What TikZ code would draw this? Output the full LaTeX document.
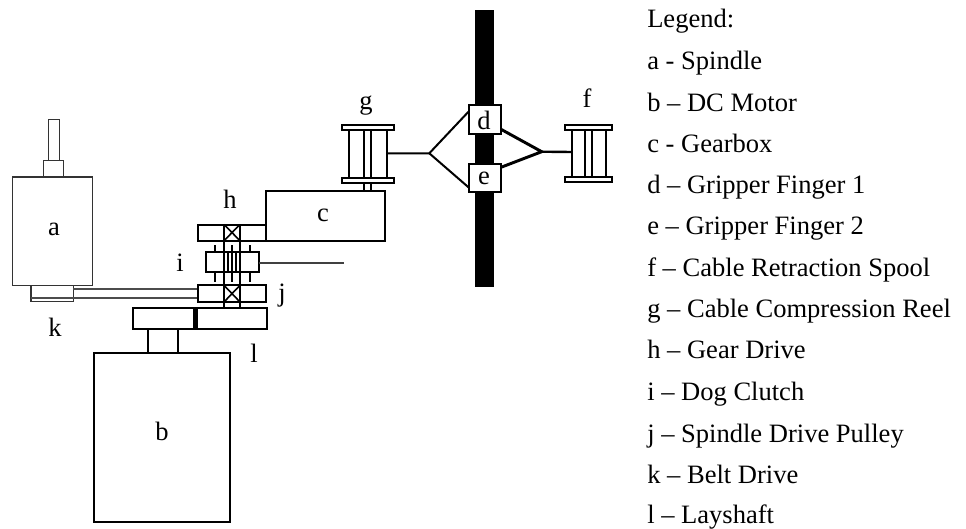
\documentclass[tikz,border=0pt]{standalone}
\usepackage{fontspec}
\setmainfont{Liberation Serif}
\tikzset{
 px/.style={x=0.75pt,y=-0.75pt},
 ln/.style={draw=black,line width=1.5pt,fill=white},
 thin/.style={draw=black!80,line width=1pt,fill=white},
 bar/.style={draw=black,line width=1.5pt},
 lab/.style={font=\fontsize{19.9pt}{22pt}\selectfont,inner sep=0pt,anchor=base},
 leg/.style={font=\fontsize{19.9pt}{22pt}\selectfont,inner sep=0pt,anchor=base west},
}
\begin{document}
\begin{tikzpicture}[px]
\useasboundingbox (0,0) rectangle (966,528);
% gripper bar
\fill[black] (474.5,10) rectangle (494,287);
% spindle
\draw[thin] (48.5,119.5) rectangle (59.5,160.5);
\draw[thin] (43.5,160.5) rectangle (63.5,177);
\draw[thin] (12.7,177) rectangle (92.7,285.7);
% belt
\draw[thin] (31,285.7) rectangle (73.3,301.7);
\draw[draw=black!70,line width=1pt] (31,298.5) -- (73.3,298.5);
\draw[draw=black!70,line width=1pt] (73.3,289) -- (197.5,289);
\draw[draw=black!70,line width=1pt] (31,298) -- (197.5,298);
% motor
\draw[ln] (94,352.5) rectangle (230,522);
\draw[ln] (148.3,329) rectangle (178.3,352.5);
\draw[ln] (132.7,307.7) rectangle (267.3,329);
\draw[line width=3.5pt] (195.7,307.7) -- (195.7,329);
% c gearbox
\draw[ln] (266.3,190.7) rectangle (384.5,240.7);
% shaft
\draw[bar] (224,240.7) -- (224,285.3) (240,240.7) -- (240,285.3);
% h
\draw[ln] (197.5,224.5) rectangle (266,240.7);
\draw[ln] (224,224.5) rectangle (240,240.7);
\draw[line width=1.2pt] (224,224.5) -- (240,240.7) (224,240.7) -- (240,224.5);
% i
\foreach \xx in {215,231.7,250}{
 \draw[line width=1.3pt] (\xx,245) -- (\xx,252.3) (\xx,272.3) -- (\xx,281.7);
}
\draw[ln] (206,252.3) rectangle (258.7,272.3);
\draw[draw=black!75,line width=1pt] (258.7,263) -- (344,263);
\foreach \xx in {224,228,232,236,240}{\draw[line width=1.3pt] (\xx,252.3) -- (\xx,272.3);}
% j
\draw[ln] (197.5,285.3) rectangle (265.7,302);
\draw[ln] (224,285.3) rectangle (240,302);
\draw[line width=1.2pt] (224,285.3) -- (240,302) (224,302) -- (240,285.3);
\draw[bar] (224,302) -- (224,307.7) (240,302) -- (240,307.7);
% g
\draw[bar] (349.3,130) -- (349.3,178) (386.7,130) -- (386.7,178) (364.3,130) -- (364.3,190.7) (370.7,130) -- (370.7,190.7);
\draw[ln] (341.7,125) rectangle (394.3,130);
\draw[ln] (341.7,177.5) rectangle (394.3,182.5);
% f
\draw[bar] (571.7,130) -- (571.7,177) (606,130) -- (606,177) (585,130) -- (585,177) (591.7,130) -- (591.7,177);
\draw[ln] (564.5,124.7) rectangle (612,130);
\draw[ln] (564.5,177) rectangle (612,182);
% gripper connectors
\coordinate (gl) at (429.3,153.3);
\coordinate (gr) at (541.7,151.7);
\draw[line width=1.5pt] (386.7,153.3) -- (gl) -- (468.5,111.7);
\draw[line width=1.5pt] (gl) -- (468.5,187.3);
\draw[line width=2.2pt] (501,129.3) -- (gr) -- (501,167.3);
\draw[line width=1.8pt] (gr) -- (571.7,152);
\draw[ln] (468.5,105) rectangle (501,134);
\draw[ln] (468.5,164) rectangle (501,192.3);
% labels
\node[lab] (la) at (54,235) {a};
\node[lab] (lb) at (162,440) {b};
\node[lab] (lc) at (323,221) {c};
\node[lab] (ld) at (484,129) {d};
\node[lab] (le) at (484,184) {e};
\node[lab] (lf) at (587,107) {f};
\node[lab] (lg) at (366,109) {g};
\node[lab] (lh) at (230,208) {h};
\node[lab] (li) at (180,271) {i};
\node[lab] (lj) at (282,301) {j};
\node[lab] (lk) at (55,336) {k};
\node[lab] (ll) at (254,362) {l};
% legend
\node[leg] (t0) at (647,28) {Legend:};
\node[leg] (t1) at (647,69.3) {a - Spindle};
\node[leg] (t2) at (647,111) {b – DC Motor};
\node[leg] (t3) at (647,152) {c - Gearbox};
\node[leg] (t4) at (647,193.5) {d – Gripper Finger 1};
\node[leg] (t5) at (647,234.5) {e – Gripper Finger 2};
\node[leg] (t6) at (647,276) {f – Cable Retraction Spool};
\node[leg] (t7) at (647,317) {g – Cable Compression Reel};
\node[leg] (t8) at (647,358) {h – Gear Drive};
\node[leg] (t9) at (647,400) {i – Dog Clutch};
\node[leg] (t10) at (647,442) {j – Spindle Drive Pulley};
\node[leg] (t11) at (647,483) {k – Belt Drive};
\node[leg] (t12) at (647,523) {l – Layshaft};
\end{tikzpicture}
\end{document}
